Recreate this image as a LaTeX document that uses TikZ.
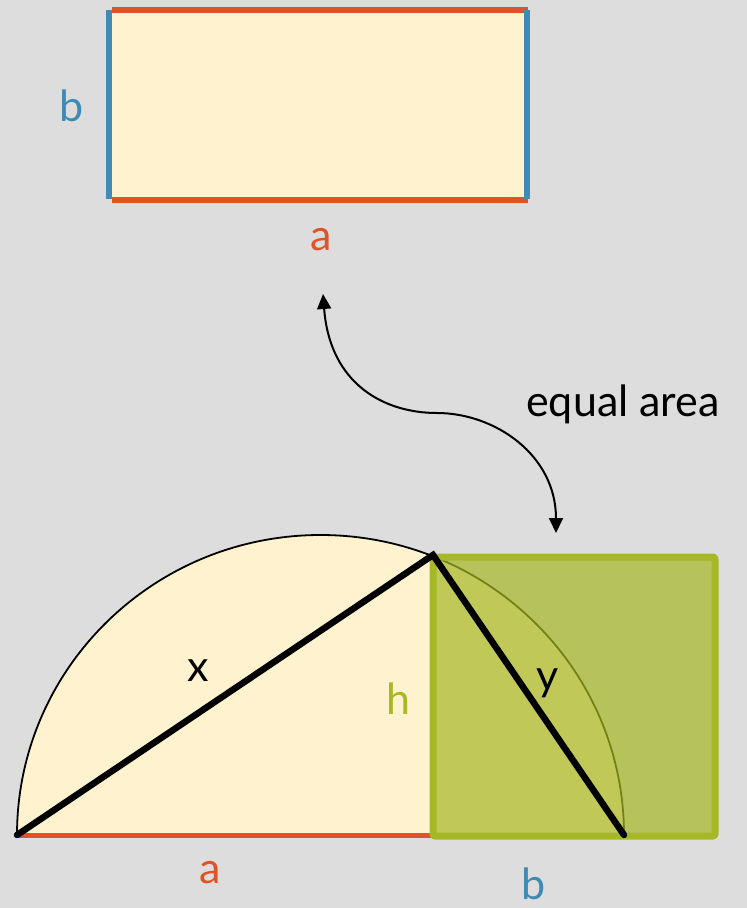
\documentclass[tikz,border=0pt]{standalone}
\usepackage{fontspec}
\setmainfont{Lato}
\usetikzlibrary{arrows.meta}
\definecolor{bg}{HTML}{DDDDDD}
\definecolor{cream}{HTML}{FFF3CF}
\definecolor{redl}{HTML}{E05327}
\definecolor{bluel}{HTML}{3F8BB5}
\definecolor{greenl}{HTML}{A6B825}
\tikzset{
  lbl/.style={inner sep=0pt, font=\fontsize{43}{43}\selectfont},
  thickblack/.style={line width=6.5pt, black, line cap=round},
  twoway/.style={line width=2pt, >={Triangle[length=15pt,width=14pt]}, <->},
}
\begin{document}
\begin{tikzpicture}[x=1pt,y=-1pt]
\fill[bg] (0,0) rectangle (747,908);
\useasboundingbox (0,0) rectangle (747,908);
% top rectangle
\coordinate (TL) at (112,10);
\coordinate (TR) at (528,10);
\coordinate (BL) at (112,200);
\coordinate (BR) at (528,200);
\fill[cream] (TL) rectangle (BR);
\draw[redl, line width=6pt] (TL) -- (TR);
\draw[redl, line width=6pt] (BL) -- (BR);
\draw[bluel, line width=6pt] (109,10) -- (109,199);
\draw[bluel, line width=6pt] (527,10) -- (527,199);
\node[lbl, text=bluel] (lb1) at (72,106) {b};
\node[lbl, text=redl] (la1) at (321,240) {a};
% semicircle
\coordinate (A) at (17,835);
\coordinate (C) at (624,835);
\coordinate (P) at (433,555);
\coordinate (F) at (433,835);
\fill[cream] (A) arc[start angle=180, end angle=360, x radius=303.5, y radius=300] -- cycle;
\draw[black, line width=1.8pt] (A) arc[start angle=180, end angle=360, x radius=303.5, y radius=300];
\draw[redl, line width=5pt] (A) -- (F);
\draw[bluel, line width=5pt] (F) -- (C);
% square
\filldraw[greenl, fill opacity=0.7, line width=7pt, rounded corners=2pt, line join=round] (433,557) rectangle (715,836);
% chords
\draw[thickblack] (A) -- (P) -- (C);
% labels
\node[lbl] (lx) at (198,671) {x};
\node[lbl, text=greenl] (lh) at (398,699) {h};
\node[lbl] (ly) at (548,683) {y};
\node[lbl, text=redl] (la2) at (210,873) {a};
\node[lbl, text=bluel] (lb2) at (534,884) {b};
\node[lbl] (eq) at (623,404) {equal area};
% arrow
\coordinate (U) at (323,294);
\coordinate (D) at (556,533);
\draw[twoway]
  (U) .. controls (330,385) and (385,413) .. (437,413)
      .. controls (495,413) and (556,455) .. (D);
\end{tikzpicture}
\end{document}
